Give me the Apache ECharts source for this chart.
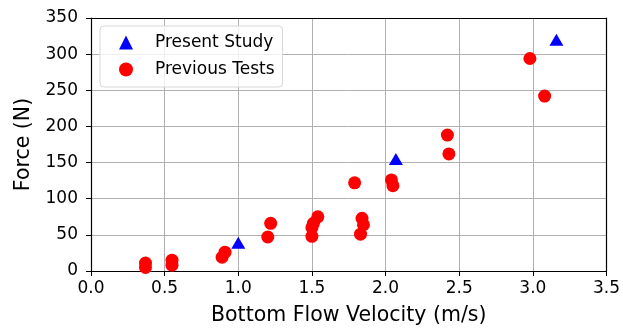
<!DOCTYPE html>
<html>
<head>
<meta charset="utf-8">
<script src="https://cdn.jsdelivr.net/npm/echarts@6/dist/echarts.min.js"></script>
<style>
html, body { margin: 0; padding: 0; background: #fff; }
#chart { width: 623px; height: 331px; }
</style>
</head>
<body>
<div id="chart"></div>
<script>
// present study points
var presentX = [1.00, 2.07, 3.16];
var presentY = [39, 155, 320];
// previous tests
var previousX = [0.37, 0.37, 0.55, 0.55, 0.91, 0.89, 1.22, 1.20, 1.50, 1.51, 1.50, 1.54,
                 1.79, 1.84, 1.85, 1.83, 2.04, 2.05, 2.42, 2.43, 2.98, 3.08];
var previousY = [11, 5, 15, 8, 26, 19, 66, 47, 60, 66, 48, 75,
                 122, 73, 64, 51, 126, 118, 188, 162, 294, 242];
var xTicks = [0.0, 0.5, 1.0, 1.5, 2.0, 2.5, 3.0, 3.5];
var yTicks = [0, 50, 100, 150, 200, 250, 300, 350];

function pairs(xs, ys) {
  return xs.map(function (x, i) { return [x, ys[i]]; });
}

var font = 'DejaVu Sans';
var myChart = echarts.init(document.getElementById('chart'));

option = {
  backgroundColor: '#fff',
  animation: false,
  textStyle: { fontFamily: font },
  grid: { left: 91, right: 15, top: 18, bottom: 58 },
  legend: {
    orient: 'vertical',
    left: 100,
    top: 26,
    padding: [8, 8, 9, 19],
    itemWidth: 14,
    itemHeight: 14,
    itemGap: 10,
    backgroundColor: 'rgba(255,255,255,0.8)',
    borderColor: '#d6d6d6',
    borderWidth: 1,
    borderRadius: 4,
    formatter: '{a|{name}}',
    textStyle: {
      fontFamily: font, fontSize: 17, color: '#000',
      rich: { a: { fontFamily: font, fontSize: 17, color: '#000', padding: [0, 0, 0, 17] } }
    },
    data: ['Present Study', 'Previous Tests']
  },
  xAxis: [
    {
      type: 'value',
      min: 0, max: 3.5, interval: 0.5,
      name: 'Bottom Flow Velocity (m/s)',
      nameLocation: 'middle',
      nameGap: 34,
      nameTextStyle: { fontFamily: font, fontSize: 20.5, color: '#000' },
      axisLine: { show: true, onZero: false, lineStyle: { color: '#000', width: 1.2 } },
      axisTick: { show: true, inside: false, length: 5, lineStyle: { color: '#000' } },
      axisLabel: {
        fontFamily: font, fontSize: 17, color: '#000', margin: 9,
        formatter: function (v) { return v.toFixed(1); }
      },
      splitLine: { show: true, lineStyle: { color: '#b0b0b0', width: 1 } }
    },
    {
      type: 'value',
      position: 'top',
      min: 0, max: 3.5, interval: 0.5,
      axisLine: { show: true, onZero: false, lineStyle: { color: '#000', width: 1.2 } },
      axisTick: { show: false },
      axisLabel: { show: false },
      splitLine: { show: false }
    }
  ],
  yAxis: [
    {
      type: 'value',
      min: 0, max: 350, interval: 50,
      name: 'Force (N)',
      nameLocation: 'middle',
      nameGap: 56,
      nameTextStyle: { fontFamily: font, fontSize: 20.5, color: '#000' },
      axisLine: { show: true, onZero: false, lineStyle: { color: '#000', width: 1.2 } },
      axisTick: { show: true, inside: false, length: 5, lineStyle: { color: '#000' } },
      axisLabel: { fontFamily: font, fontSize: 17, color: '#000', margin: 13 },
      splitLine: { show: true, lineStyle: { color: '#b0b0b0', width: 1 } }
    },
    {
      type: 'value',
      position: 'right',
      min: 0, max: 350, interval: 50,
      axisLine: { show: true, onZero: false, lineStyle: { color: '#000', width: 1.2 } },
      axisTick: { show: false },
      axisLabel: { show: false },
      splitLine: { show: false }
    }
  ],
  series: [
    {
      name: 'Present Study',
      type: 'scatter',
      symbol: 'triangle',
      symbolSize: [14, 12],
      itemStyle: { color: '#0000ff', opacity: 1 },
      z: 3,
      data: pairs(presentX, presentY)
    },
    {
      name: 'Previous Tests',
      type: 'scatter',
      symbol: 'circle',
      symbolSize: 13,
      itemStyle: { color: '#ff0000', opacity: 1 },
      z: 2,
      data: pairs(previousX, previousY)
    }
  ]
};

myChart.setOption(option);
</script>
</body>
</html>
